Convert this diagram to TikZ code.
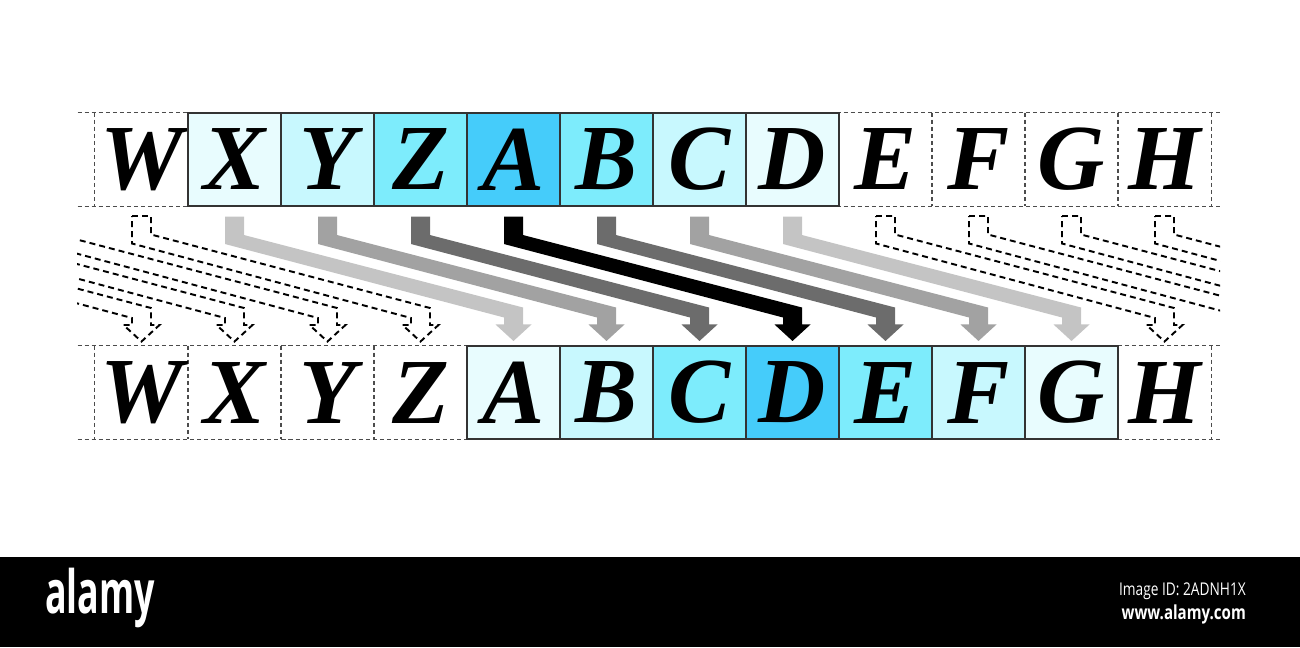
\documentclass[tikz,border=0pt]{standalone}
\usepackage{fontspec}
\setmainfont{Liberation Serif}
\newfontfamily\bandfont{Open Sans}
\usetikzlibrary{calc,backgrounds}
\definecolor{shade1}{HTML}{E8FCFE}
\definecolor{shade2}{HTML}{C8F8FE}
\definecolor{shade3}{HTML}{7DECFC}
\definecolor{shade4}{HTML}{45CCFA}
\definecolor{gray1}{HTML}{C4C4C4}
\definecolor{gray2}{HTML}{A2A2A2}
\definecolor{gray3}{HTML}{6C6C6C}
\definecolor{gray4}{HTML}{000000}

% shifted arrow from a top cell to a bottom cell
\newcommand\shiftarrow[3]{%
  \path[#3] ($(#1)+(-9.5,10)$) -- ($(#1)+(9.5,10)$) -- ($(#1)+(9.5,28.5)$)
    -- ($(#2)+(9.5,-38)$) -- ($(#2)+(9.5,-21)$) -- ($(#2)+(18,-21)$)
    -- ($(#2)+(0,-4.5)$) -- ($(#2)+(-18,-21)$) -- ($(#2)+(-9.5,-21)$)
    -- ($(#2)+(-9.5,-28)$) -- ($(#1)+(-9.5,37.5)$) -- cycle;}

\begin{document}
\begin{tikzpicture}[
                x=0.02cm,y=-0.02cm,
                cell/.style={minimum width=1.86cm,minimum height=1.86cm,inner sep=0pt,
                  font=\fontsize{53}{53}\selectfont\bfseries\itshape},
                scell/.style={cell,draw=black!80,line width=0.6pt,fill=#1},
                dline/.style={black!70,line width=0.6pt,dash pattern=on 2.3pt off 1.7pt},
                darrow/.style={draw=black,line width=1.1pt,dash pattern=on 3.4pt off 2.3pt,line join=miter},
                sarrow/.style={fill=#1}
            ]
                \useasboundingbox (0,0) rectangle (1300,647);
                % Cells: top row and bottom row
                \foreach \l [count=\i from 0] in {W,X,Y,Z,A,B,C,D,E,F,G,H} {
                    \pgfmathtruncatemacro{\tl}{4-abs(\i-4)}
                    \pgfmathtruncatemacro{\bl}{4-abs(\i-7)}
                    \ifnum\tl>0
                        \node[scell=shade\tl] (t\i) at (141.5+93*\i,159.5) {\l};
                    \else
                        \node[cell] (t\i) at (141.5+93*\i,159.5) {\l};
                    \fi
                    \ifnum\bl>0
                        \node[scell=shade\bl] (b\i) at (141.5+93*\i,392.5) {\l};
                    \else
                        \node[cell] (b\i) at (141.5+93*\i,392.5) {\l};
                    \fi
                }
                % Dashed rules behind the cells
                \begin{scope}[on background layer]
                    \foreach \r in {t,b} {
                        \draw[dline] ($(\r0.north west)+(-17,0)$) -- ($(\r11.north east)+(11,0)$);
                        \draw[dline] ($(\r0.south west)+(-17,0)$) -- ($(\r11.south east)+(11,0)$);
                    }
                    \foreach \i in {0,8,9,10,11} {
                        \draw[dline] (t\i.north west) -- (t\i.south west);
                        \draw[dline] (t\i.north east) -- (t\i.south east);
                    }
                    \foreach \i in {0,1,2,3,11} {
                        \draw[dline] (b\i.north west) -- (b\i.south west);
                        \draw[dline] (b\i.north east) -- (b\i.south east);
                    }
                \end{scope}
                % Solid shift arrows
                \foreach \i in {1,...,7} {
                    \pgfmathtruncatemacro{\j}{\i+3}
                    \pgfmathtruncatemacro{\gl}{4-abs(\i-4)}
                    \shiftarrow{t\i.south}{b\j.north}{sarrow=gray\gl}
                }
                % Wrap-around arrows, dashed
                \foreach \k in {0,...,17} {
                    \coordinate (ts\k) at (141.5+93*\k-279,206);
                    \coordinate (bn\k) at (141.5+93*\k-279,346);
                }
                \begin{scope}
                    \clip (77,200) rectangle (1220,345);
                    \foreach \k in {0,1,2,3,11,12,13,14} {
                        \pgfmathtruncatemacro{\m}{\k+3}
                        \shiftarrow{ts\k}{bn\m}{darrow}
                    }
                \end{scope}
                % Footer band
                \fill[black] (0,557) rectangle (1300,647);
                \node[white,font=\bandfont\bfseries\fontsize{34}{34}\selectfont] (logo) at (100,598) {\scalebox{0.6}[1]{alamy}};
                \node[white,font=\bandfont\fontsize{10}{10}\selectfont,anchor=east] (imgid) at (1252,591) {\scalebox{0.78}[1]{Image ID: 2ADNH1X}};
                \node[white,font=\bandfont\bfseries\fontsize{11}{11}\selectfont,anchor=east] (site) at (1252,614) {\scalebox{0.78}[1]{www.alamy.com}};
            \end{tikzpicture}
\end{document}
